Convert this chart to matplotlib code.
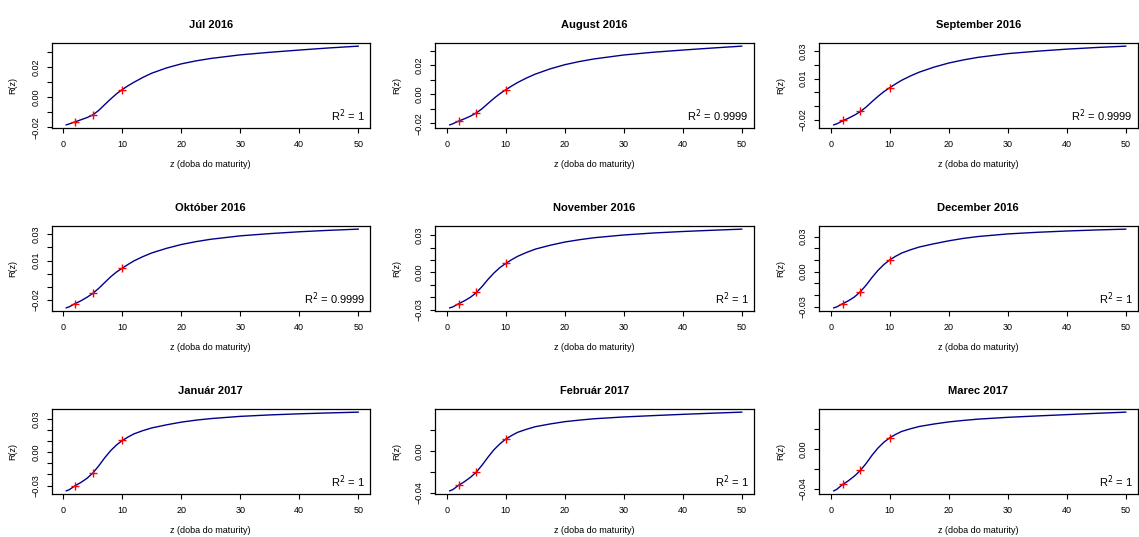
import matplotlib
matplotlib.use("Agg")
import matplotlib.pyplot as plt

plt.rcParams['font.family'] = ['Liberation Sans', 'DejaVu Sans']

# maturities of the fitted curve and of the observed points
z = [0.5, 1, 2, 3, 4, 5, 6, 7, 8, 9, 10, 11, 12, 13.5, 15, 17.5, 20, 22.5, 25, 30, 35, 40, 45, 50]
z_obs = [2, 5, 10]

titles = ["Júl 2016", "August 2016", "September 2016",
          "Október 2016", "November 2016", "December 2016",
          "Január 2017", "Február 2017", "Marec 2017"]
r2 = ["1", "0.9999", "0.9999", "0.9999", "1", "1", "1", "1", "1"]

# fitted curves R(z)
curve_jul = [-0.0184, -0.0178, -0.0164, -0.0150, -0.0136, -0.0118, -0.0088, -0.0050, -0.0013, 0.0022,
             0.0051, 0.0077, 0.0100, 0.0132, 0.0160, 0.0195, 0.0222, 0.0242, 0.0258,
             0.0282, 0.0299, 0.0314, 0.0328, 0.0340]
curve_aug = [-0.0210, -0.0203, -0.0184, -0.0168, -0.0150, -0.0128, -0.0098, -0.0062, -0.0027, 0.0005,
             0.0032, 0.0058, 0.0082, 0.0113, 0.0140, 0.0176, 0.0205, 0.0227, 0.0245,
             0.0272, 0.0291, 0.0306, 0.0320, 0.0333]
curve_sep = [-0.0239, -0.0232, -0.0210, -0.0190, -0.0168, -0.0142, -0.0108, -0.0068, -0.0030, 0.0005,
             0.0034, 0.0062, 0.0088, 0.0120, 0.0148, 0.0185, 0.0215, 0.0238, 0.0257,
             0.0284, 0.0302, 0.0317, 0.0329, 0.0339]
curve_okt = [-0.0260, -0.0252, -0.0228, -0.0206, -0.0180, -0.0150, -0.0112, -0.0068, -0.0025, 0.0012,
             0.0042, 0.0071, 0.0098, 0.0130, 0.0158, 0.0193, 0.0222, 0.0244, 0.0262,
             0.0288, 0.0305, 0.0319, 0.0330, 0.0339]
curve_nov = [-0.0285, -0.0278, -0.0252, -0.0228, -0.0200, -0.0163, -0.0112, -0.0055, -0.0004, 0.0039,
             0.0073, 0.0103, 0.0130, 0.0161, 0.0188, 0.0219, 0.0245, 0.0264, 0.0280,
             0.0302, 0.0318, 0.0330, 0.0340, 0.0349]
curve_dec = [-0.0311, -0.0303, -0.0276, -0.0250, -0.0218, -0.0174, -0.0116, -0.0050, 0.0010, 0.0060,
             0.0100, 0.0131, 0.0158, 0.0186, 0.0210, 0.0238, 0.0263, 0.0284, 0.0300,
             0.0322, 0.0336, 0.0347, 0.0356, 0.0363]
curve_jan = [-0.0348, -0.0338, -0.0302, -0.0272, -0.0236, -0.0188, -0.0124, -0.0052, 0.0012, 0.0064,
             0.0105, 0.0137, 0.0165, 0.0194, 0.0218, 0.0246, 0.0270, 0.0288, 0.0302,
             0.0322, 0.0335, 0.0345, 0.0353, 0.0360]
curve_feb = [-0.0381, -0.0370, -0.0328, -0.0293, -0.0252, -0.0202, -0.0134, -0.0058, 0.0012, 0.0068,
             0.0114, 0.0148, 0.0178, 0.0207, 0.0232, 0.0258, 0.0280, 0.0295, 0.0308,
             0.0325, 0.0338, 0.0350, 0.0361, 0.0371]
curve_mar = [-0.0420, -0.0405, -0.0357, -0.0318, -0.0272, -0.0216, -0.0144, -0.0062, 0.0010, 0.0068,
             0.0113, 0.0147, 0.0176, 0.0203, 0.0226, 0.0251, 0.0272, 0.0287, 0.0300,
             0.0318, 0.0332, 0.0345, 0.0358, 0.0370]

# observed points (red crosses)
obs_jul = [-0.0164, -0.0118, 0.0051]
obs_aug = [-0.0180, -0.0125, 0.0032]
obs_sep = [-0.0205, -0.0139, 0.0034]
obs_okt = [-0.0227, -0.0148, 0.0042]
obs_nov = [-0.0250, -0.0161, 0.0073]
obs_dec = [-0.0274, -0.0171, 0.0100]
obs_jan = [-0.0300, -0.0186, 0.0105]
obs_feb = [-0.0324, -0.0200, 0.0114]
obs_mar = [-0.0353, -0.0213, 0.0113]

curves = [curve_jul, curve_aug, curve_sep, curve_okt, curve_nov,
          curve_dec, curve_jan, curve_feb, curve_mar]
observed = [obs_jul, obs_aug, obs_sep, obs_okt, obs_nov,
            obs_dec, obs_jan, obs_feb, obs_mar]

# y ticks and the labels R kept (the rest were dropped for overlap)
ticks_a = [-0.02, -0.01, 0.00, 0.01, 0.02, 0.03]
labels_a = ["-0.02", "", "0.00", "", "0.02", ""]
labels_b = ["-0.02", "", "", "0.01", "", "0.03"]
ticks_c = [-0.03, -0.02, -0.01, 0.00, 0.01, 0.02, 0.03]
labels_c = ["-0.03", "", "", "0.00", "", "", "0.03"]
ticks_d = [-0.04, -0.02, 0.00, 0.02]
labels_d = ["-0.04", "", "0.00", ""]
yticks = [ticks_a, ticks_a, ticks_a, ticks_a, ticks_c, ticks_c, ticks_c, ticks_d, ticks_d]
ylabels = [labels_a, labels_a, labels_b, labels_b, labels_c, labels_c, labels_c, labels_d, labels_d]


def main():
    fig = plt.figure(figsize=(11.39, 5.37), dpi=100)

    lefts = [51.5, 435, 819]
    bottoms = [128, 311, 494]
    w, h = 318.5, 85

    for i in range(9):
        row, col = divmod(i, 3)
        ax = fig.add_axes([lefts[col] / 1139, (537 - bottoms[row]) / 537, w / 1139, h / 537])

        ax.plot(z, curves[i], color="#00008B", lw=1.0)
        ax.plot(z_obs, observed[i], "+", color="red", ms=5.5, mew=1.0)

        # R style 4% extension of the data range
        vals = curves[i] + observed[i]
        lo, hi = min(vals), max(vals)
        ext = 0.04 * (hi - lo)
        ax.set_ylim(lo - ext, hi + ext)
        ax.set_xlim(-2, 52)

        ax.set_xticks([0, 10, 20, 30, 40, 50])
        ax.set_yticks(yticks[i], [s.replace("-", "\u2212") for s in ylabels[i]])
        for lab in ax.get_yticklabels():
            lab.set_rotation(90)
            lab.set_va("center")

        ax.tick_params(direction="out", length=3.6, width=0.8, labelsize=6.5, pad=4.5, colors="black")
        ax.tick_params(axis="x", pad=5)
        for sp in ax.spines.values():
            sp.set_linewidth(0.9)

        ax.set_title(titles[i], fontsize=8, fontweight="bold", pad=11)
        ax.set_xlabel("z (doba do maturity)", fontsize=6.5, labelpad=8)
        ax.set_ylabel("R(z)", fontsize=6.5, labelpad=10)

        ax.text(0.985, 0.05, "R$^2$ = " + r2[i], transform=ax.transAxes,
                ha="right", va="bottom", fontsize=8)

    fig.savefig("out.png", dpi=100)


if __name__ == "__main__":
    main()
